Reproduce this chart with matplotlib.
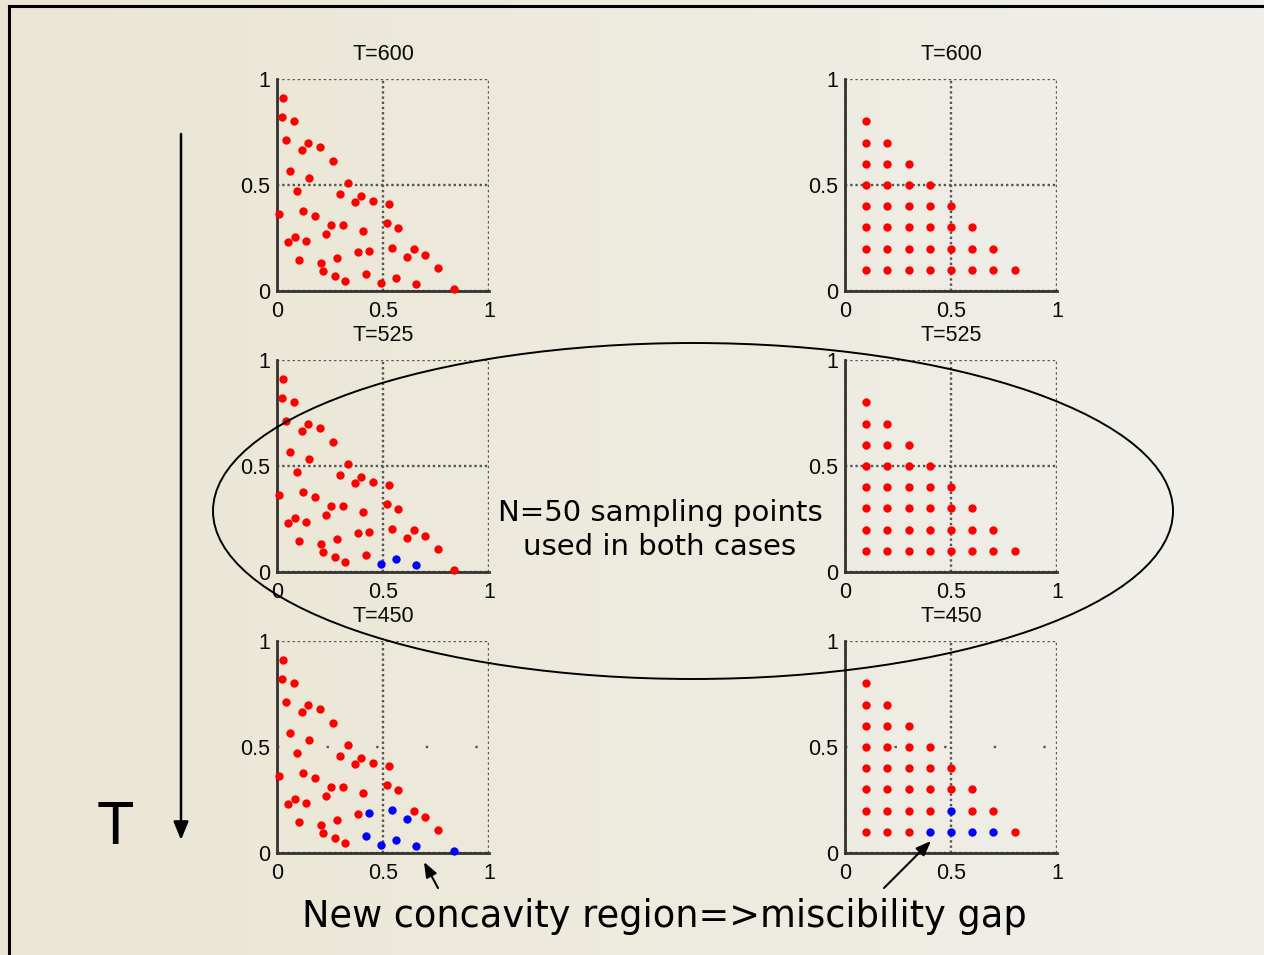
import numpy as np
import matplotlib
matplotlib.use("Agg")
import matplotlib.pyplot as plt
from matplotlib.patches import Ellipse

# sampling points (quasi-random set, left column)
xs_rand = [0.027, 0.022, 0.078, 0.042, 0.116, 0.148, 0.201, 0.262, 0.063, 0.151,
           0.336, 0.093, 0.295, 0.396, 0.366, 0.451, 0.529, 0.011, 0.122, 0.177,
           0.256, 0.311, 0.520, 0.573, 0.405, 0.229, 0.083, 0.052, 0.137, 0.542,
           0.647, 0.435, 0.380, 0.699, 0.615, 0.281, 0.105, 0.207, 0.218, 0.761,
           0.272, 0.418, 0.323, 0.490, 0.560, 0.655, 0.835]
ys_rand = [0.910, 0.822, 0.803, 0.710, 0.667, 0.697, 0.677, 0.612, 0.568, 0.535,
           0.511, 0.473, 0.457, 0.450, 0.418, 0.423, 0.409, 0.363, 0.377, 0.352,
           0.309, 0.312, 0.323, 0.298, 0.284, 0.271, 0.257, 0.229, 0.238, 0.203,
           0.199, 0.189, 0.183, 0.172, 0.162, 0.158, 0.144, 0.132, 0.095, 0.107,
           0.073, 0.079, 0.047, 0.038, 0.063, 0.033, 0.009]

# regular grid (right column): step 0.1, x + y <= 0.9
xs_grid = [0.1] * 8 + [0.2] * 7 + [0.3] * 6 + [0.4] * 5 + [0.5] * 4 + [0.6] * 3 + [0.7] * 2 + [0.8]
ys_grid = ([0.1, 0.2, 0.3, 0.4, 0.5, 0.6, 0.7, 0.8] + [0.1, 0.2, 0.3, 0.4, 0.5, 0.6, 0.7]
           + [0.1, 0.2, 0.3, 0.4, 0.5, 0.6] + [0.1, 0.2, 0.3, 0.4, 0.5]
           + [0.1, 0.2, 0.3, 0.4] + [0.1, 0.2, 0.3] + [0.1, 0.2] + [0.1])

temps = [600, 525, 450]
# indices of concave (blue) points per temperature
blue_rand = {600: [], 525: [43, 44, 45], 450: [29, 31, 34, 41, 43, 44, 45, 46]}
blue_grid = {600: [], 525: [], 450: [21, 26, 27, 30, 33]}

ticks = [0, 0.5, 1]
tick_labels = ["0", "0.5", "1"]

W, H = 1264, 955
fig = plt.figure(figsize=(W / 100, H / 100), dpi=100)

# slide background
bg = fig.add_axes([0, 0, 1, 1], zorder=-5)
grad = np.linspace(0, 1, 256)
c0 = np.array([235, 230, 211]) / 255
c1 = np.array([240, 239, 234]) / 255
img = c0[None, :] * (1 - grad[:, None]) + c1[None, :] * grad[:, None]
bg.imshow(img[None, :, :], aspect="auto", extent=[0, W, H, 0])
bg.set_xlim(0, W)
bg.set_ylim(H, 0)
bg.axis("off")

tick_font = ["Liberation Sans", "DejaVu Sans"]


def draw_panel(left_px, top_px, xs, ys, blue_idx, temp, row):
    ax = fig.add_axes([left_px / W, 1 - (top_px + 212) / H, 212 / W, 212 / H])
    ax.patch.set_alpha(0)
    red = [i for i in range(len(xs)) if i not in blue_idx]
    ax.plot([xs[i] for i in red], [ys[i] for i in red], "o", color="#ff0000",
            ms=6, mec="none", clip_on=False, zorder=3)
    ax.plot([xs[i] for i in blue_idx], [ys[i] for i in blue_idx], "o", color="#0000ff",
            ms=6, mec="none", clip_on=False, zorder=3)
    ax.set_xlim(0, 1)
    ax.set_ylim(0, 1)
    ax.set_xticks(ticks)
    ax.set_yticks(ticks)
    ax.set_xticklabels(tick_labels, family=tick_font, fontsize=15.5, color="#0a0a0a")
    ax.set_yticklabels(tick_labels, family=tick_font, fontsize=15.5, color="#0a0a0a")
    ax.tick_params(length=0)
    ax.tick_params(axis="x", pad=7)
    ax.tick_params(axis="y", pad=5)
    for s in ["top", "right"]:
        ax.spines[s].set_visible(False)
    for s in ["left", "bottom"]:
        ax.spines[s].set_color("#333333")
        ax.spines[s].set_linewidth(2)
    ax.grid(True, color="#555555", linestyle=(0, (1, 1.2)), linewidth=1.7)
    if row == 2:
        ax.yaxis.get_gridlines()[1].set_linestyle((0, (1, 20)))
    ax.set_title(f"T={temp}", family=tick_font, fontsize=15.5, pad=14, color="#0a0a0a")
    return ax


tops = [79, 360, 641]
for r, t in enumerate(temps):
    draw_panel(277, tops[r], xs_rand, ys_rand, blue_rand[t], t, r)
    draw_panel(845, tops[r], xs_grid, ys_grid, blue_grid[t], t, r)

# overlay for annotations
ov = fig.add_axes([0, 0, 1, 1], zorder=20)
ov.patch.set_alpha(0)
ov.set_xlim(0, W)
ov.set_ylim(H, 0)
ov.axis("off")

# slide frame
ov.plot([9, W], [6, 6], color="black", lw=2.2)
ov.plot([9, 9], [6, H], color="black", lw=2.2)

ov.add_patch(Ellipse((693, 511), 960, 336, fill=False, edgecolor="black", lw=1.4))

ov.annotate("", xy=(181, 840), xytext=(181, 134),
            arrowprops=dict(arrowstyle="-|>,head_length=1.1,head_width=0.45",
                            color="black", lw=1.8, shrinkA=0, shrinkB=0))
ov.text(115, 828, "T", fontsize=44, family=tick_font, ha="center", va="center")

ov.text(660, 530, "N=50 sampling points\nused in both cases", fontsize=21,
        family="DejaVu Sans", ha="center", va="center", linespacing=1.28)
ov.text(664, 916, "New concavity region=>miscibility gap", fontsize=26.5,
        family="DejaVu Sans", ha="center", va="center")

for tip, tail in [((424, 862), (438, 888)), ((931, 841), (884, 888))]:
    ov.annotate("", xy=tip, xytext=tail,
                arrowprops=dict(arrowstyle="-|>,head_length=0.9,head_width=0.35",
                                color="black", lw=1.5, shrinkA=0, shrinkB=0))

fig.savefig("out.png", dpi=100)
